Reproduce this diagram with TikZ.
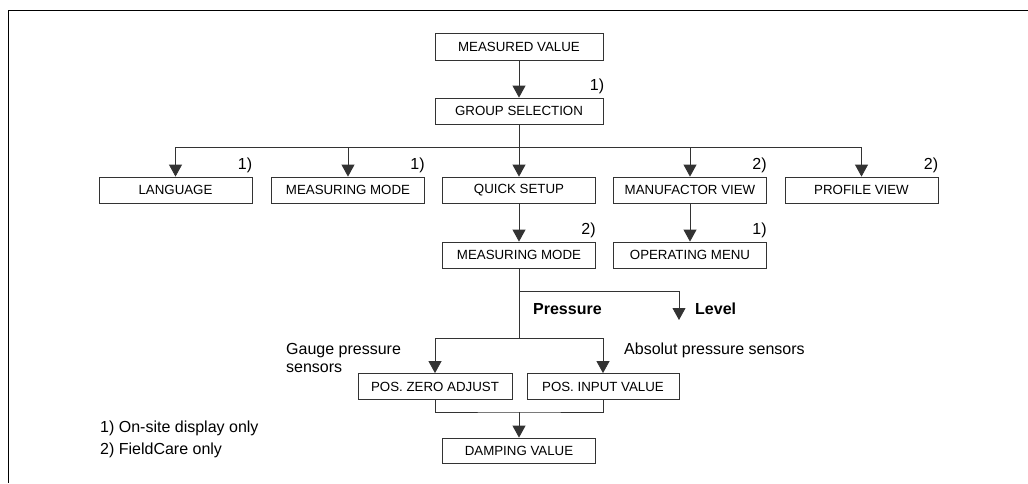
\documentclass[tikz,border=0pt]{standalone}
\usepackage{fontspec}
\setmainfont{Liberation Sans}
\usetikzlibrary{arrows.meta,positioning}

\begin{document}
\begin{tikzpicture}[>={Triangle[length=12pt,width=13pt]},x=1pt,y=-1pt,
  box/.style={draw=black!80,line width=0.8pt,minimum width=153pt,minimum height=26pt,inner sep=0pt,font=\fontsize{13.3}{15}\selectfont},
  conn/.style={draw=black!80,line width=0.8pt},
  lbl/.style={inner sep=0pt,align=left,font=\fontsize{16}{18}\selectfont},
  fn/.style={inner sep=0pt,font=\fontsize{16}{18}\selectfont}]
  \useasboundingbox (0,0) rectangle (1028,483);
  \draw[line width=1pt] (1028,10) -- (8,10) -- (8,483);
  % main menu
  \node[box,minimum width=168pt,minimum height=27pt] (mv) at (519,46.5) {MEASURED VALUE};
  \node[box,minimum width=168pt] (gs) at (519,111) {GROUP SELECTION};
  \node[box] (lang) at (175.5,190) {LANGUAGE};
  \node[box] (mm) at (348,190) {MEASURING MODE};
  \node[box] (qs) at (519,190) {QUICK SETUP};
  \node[box] (mf) at (690,190) {MANUFACTOR VIEW};
  \node[box] (pv) at (861.5,190) {PROFILE VIEW};
  \node[box] (mm2) at (519,255) {MEASURING MODE};
  \node[box] (op) at (690,255) {OPERATING MENU};
  \node[box,minimum width=154pt] (pza) at (435,386.5) {POS. ZERO ADJUST};
  \node[box,minimum width=152pt] (piv) at (603,386.5) {POS. INPUT VALUE};
  \node[box,minimum height=25pt] (dv) at (519,450.5) {DAMPING VALUE};
  \coordinate (bus) at (519,147);
  \coordinate (br) at (519,291);
  \coordinate (lvtip) at (679,320);
  \coordinate (bus2) at (519,338);
  \coordinate (mg) at (519,412);
  % connectors
  \draw[conn,->] (mv) -- (gs);
  \draw[conn,->] (gs) -- (bus) -| (lang);
  \draw[conn,->] (gs) -- (bus) -| (mm);
  \draw[conn,->] (gs) -- (qs);
  \draw[conn,->] (gs) -- (bus) -| (mf);
  \draw[conn,->] (gs) -- (bus) -| (pv);
  \draw[conn,->] (qs) -- (mm2);
  \draw[conn,->] (mf) -- (op);
  \draw[conn,->] (mm2) -- (br) -| (lvtip);
  \draw[conn,->] (mm2) -- (bus2) -| (pza);
  \draw[conn,->] (mm2) -- (bus2) -| (piv);
  \draw[conn] (pza) |- (mg) -| (piv);
  \draw[conn,->] (mg) -- (dv);
  % footnote marks
  \node[fn,above left=4pt and -1pt of gs.north east] (f1) {1)};
  \node[fn,above left=4pt and 0pt of lang.north east] (f2) {1)};
  \node[fn,above left=4pt and 0pt of mm.north east] (f3) {1)};
  \node[fn,above left=4pt and 0pt of mf.north east] (f4) {2)};
  \node[fn,above left=4pt and 0pt of pv.north east] (f5) {2)};
  \node[fn,above left=4pt and 0pt of mm2.north east] (f6) {2)};
  \node[fn,above left=4pt and 0pt of op.north east] (f7) {1)};
  % branch labels
  \node[lbl,anchor=west] (pr) at (533,309) {\textbf{Pressure}};
  \node[lbl,anchor=west] (lv) at (695,309) {\textbf{Level}};
  \node[lbl,anchor=west] (gp) at (286,358) {Gauge pressure\\sensors};
  \node[lbl,anchor=west] (ap) at (624,350) {Absolut pressure sensors};
  \node[lbl,anchor=west] (n1) at (100,428) {1) On-site display only};
  \node[lbl,anchor=west] (n2) at (100,450) {2) FieldCare only};
\end{tikzpicture}
\end{document}
